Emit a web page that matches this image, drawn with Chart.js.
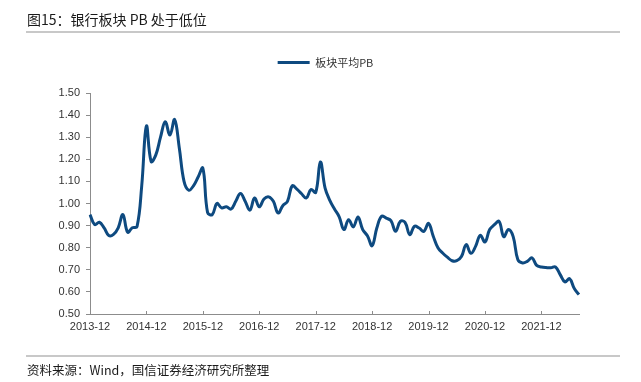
<!DOCTYPE html>
<html>
<head>
<meta charset="utf-8">
<script src="https://cdn.jsdelivr.net/npm/chart.js@4.4.0/dist/chart.umd.min.js"></script>
<style>
  html, body { margin: 0; padding: 0; background: #fff; }
  body { width: 641px; height: 382px; position: relative; overflow: hidden; font-family: "Noto Sans CJK SC", sans-serif; }
  #title { position: absolute; left: 27px; top: 10px; font-size: 14px; line-height: 18px; color: #1a1a1a; white-space: nowrap; }
  #rule1 { position: absolute; left: 26px; top: 31px; width: 594px; height: 2px; background: #c8c8c8; }
  #rule2 { position: absolute; left: 26px; top: 355px; width: 594px; height: 2px; background: #c8c8c8; }
  #source { position: absolute; left: 27px; top: 362px; font-size: 12.5px; line-height: 16px; color: #1a1a1a; white-space: nowrap; }
  #wrap { position: absolute; left: 0; top: 0; width: 641px; height: 382px; }
</style>
</head>
<body>
<div id="wrap"><canvas id="c" width="641" height="382"></canvas></div>
<div id="title">图15：银行板块 PB 处于低位</div>
<div id="rule1"></div>
<div id="rule2"></div>
<div id="source">资料来源：Wind，国信证券经济研究所整理</div>
<script>
// ---- data ----
const seriesName = "板块平均PB";
const startYear = 2013, startMonth = 12;
const pbValues = [
  0.95, 0.905, 0.915, 0.89, 0.855, 0.86, 0.89, 0.95, 0.87, 0.89, 0.895, 1.08,
  1.35, 1.19, 1.22, 1.30, 1.37, 1.31, 1.38, 1.25, 1.10, 1.06, 1.08, 1.12,
  1.16, 0.96, 0.95, 1.00, 0.98, 0.985, 0.975, 1.01, 1.045, 1.01, 0.97, 1.025,
  0.985, 1.02, 1.03, 1.01, 0.957, 0.99, 1.01, 1.08, 1.065, 1.044, 1.025, 1.063,
  1.05, 1.188, 1.07, 1.014, 0.975, 0.94, 0.882, 0.927, 0.894, 0.939, 0.882, 0.854,
  0.809, 0.889, 0.942, 0.934, 0.922, 0.874, 0.919, 0.915, 0.859, 0.897, 0.889, 0.874,
  0.91, 0.852, 0.80, 0.776, 0.757, 0.741, 0.741, 0.76, 0.814, 0.775, 0.806, 0.856,
  0.826, 0.882, 0.904, 0.919, 0.85, 0.882, 0.85, 0.745, 0.731, 0.738, 0.754, 0.72,
  0.713, 0.71, 0.709, 0.713, 0.678, 0.645, 0.66, 0.615, 0.588
];
const monthLabels = pbValues.map((_, i) => {
  const m0 = (startMonth - 1) + i;
  const y = startYear + Math.floor(m0 / 12);
  const m = (m0 % 12) + 1;
  return y + "-" + String(m).padStart(2, "0");
});
const tickEvery = 12;
const yMin = 0.5, yMax = 1.5, yStep = 0.1;

// ---- styles ----
const lineColor = "#0e4a80";
const axisColor = "#8c8c8c";
const labelColor = "#333333";

const legendTweak = {
  id: "legendTweak",
  beforeInit(chart) {
    const lg = chart.legend;
    if (!lg) return;
    const of = lg.fit;
    lg.fit = function () { of.call(this); this.height += 15; };
    const od = lg.draw;
    lg.draw = function () {
      const ctx = this.ctx;
      ctx.save();
      ctx.translate(11, 0);
      od.apply(this, arguments);
      ctx.restore();
    };
  }
};
const innerXTicks = {
  id: "innerXTicks",
  afterDraw(chart) {
    const xs = chart.scales.x, ctx = chart.ctx;
    ctx.save();
    ctx.strokeStyle = axisColor;
    ctx.lineWidth = 1;
    xs.ticks.forEach((t, i) => {
      const px = Math.round(xs.getPixelForTick(i)) + 0.5;
      ctx.beginPath();
      ctx.moveTo(px, xs.top);
      ctx.lineTo(px, xs.top - 3);
      ctx.stroke();
    });
    ctx.restore();
  }
};

new Chart(document.getElementById("c"), {
  type: "line",
  data: {
    labels: monthLabels,
    datasets: [{
      label: seriesName,
      data: pbValues,
      borderColor: lineColor,
      backgroundColor: lineColor,
      borderWidth: 3,
      pointRadius: 0,
      tension: 0.4,
      fill: false
    }]
  },
  options: {
    responsive: false,
    animation: false,
    devicePixelRatio: 1,
    layout: { padding: { left: 50, right: 62, top: 47, bottom: 44 } },
    plugins: {
      legend: {
        position: "top",
        labels: {
          usePointStyle: true,
          pointStyle: "line",
          pointStyleWidth: 32,
          color: labelColor,
          font: { family: "'Noto Sans CJK SC', sans-serif", size: 11 },
          padding: 10
        }
      },
      tooltip: { enabled: false }
    },
    scales: {
      x: {
        type: "category",
        offset: false,
        afterBuildTicks: (axis) => { axis.ticks = axis.ticks.filter(t => t.value % tickEvery === 0); },
        afterFit: (s) => { s.height = 24; },
        grid: { display: false, drawTicks: false },
        border: { display: true, color: axisColor, width: 1 },
        ticks: {
          autoSkip: false, maxRotation: 0, minRotation: 0,
          padding: 6,
          color: labelColor,
          font: { family: "'Liberation Sans', Arial, sans-serif", size: 11 }
        }
      },
      y: {
        min: yMin, max: yMax,
        afterFit: (s) => { s.width = 40; },
        grid: { drawOnChartArea: false, drawTicks: true, tickLength: 4, color: axisColor },
        border: { display: true, color: axisColor, width: 1 },
        ticks: {
          stepSize: yStep,
          padding: 6,
          color: labelColor,
          font: { family: "'Liberation Sans', Arial, sans-serif", size: 11 },
          callback: (v) => Number(v).toFixed(2)
        }
      }
    }
  },
  plugins: [legendTweak, innerXTicks]
});
</script>
</body>
</html>
